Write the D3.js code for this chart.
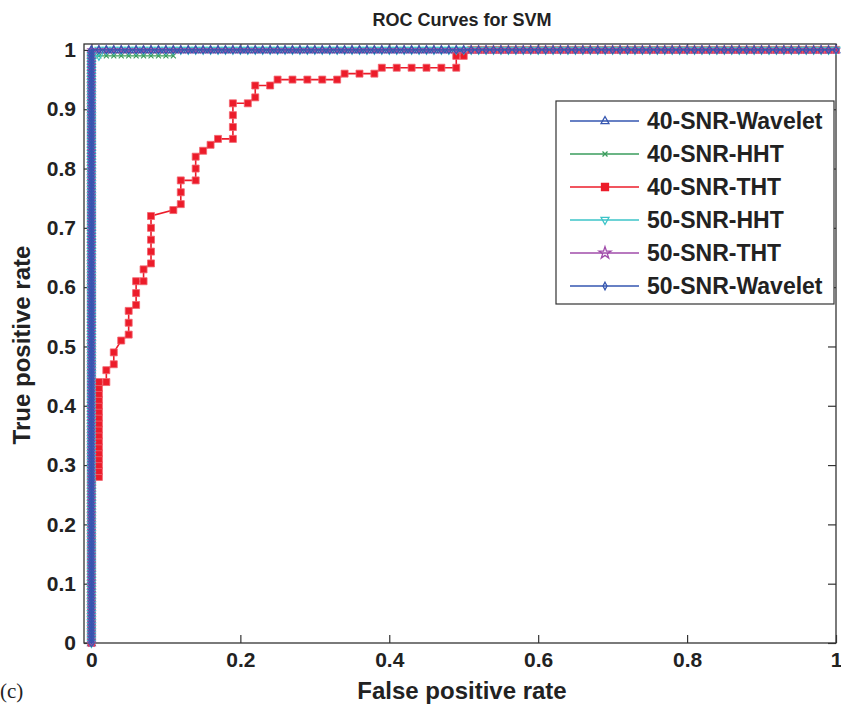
<!DOCTYPE html>
<html>
<head>
<meta charset="utf-8">
<script src="https://cdn.jsdelivr.net/npm/d3@7"></script>
<style>
  body { margin: 0; background: #fff; }
  svg { display: block; }
  .tick text { font-family: "Liberation Sans", Arial, sans-serif; font-weight: bold; font-size: 21px; fill: #222; }
  .tick line { stroke: #333; stroke-width: 1.2; }
</style>
</head>
<body>
<div id="chart"></div>
<script>
// tick values and labels
const xTicks = [0, 0.2, 0.4, 0.6, 0.8, 1]
const xTickLabels = ["0", "0.2", "0.4", "0.6", "0.8", "1"]
const yTicks = [0, 0.1, 0.2, 0.3, 0.4, 0.5, 0.6, 0.7, 0.8, 0.9, 1]
const yTickLabels = ["0", "0.1", "0.2", "0.3", "0.4", "0.5", "0.6", "0.7", "0.8", "0.9", "1"]

// perfect classifiers: TPR thresholds along FPR = 0, FPR thresholds along TPR = 1
const perfTPR = [0,.005,.01,.015,.02,.025,.03,.035,.04,.045,.05,.055,.06,.065,.07,.075,.08,.085,.09,.095,
  .1,.105,.11,.115,.12,.125,.13,.135,.14,.145,.15,.155,.16,.165,.17,.175,.18,.185,.19,.195,
  .2,.205,.21,.215,.22,.225,.23,.235,.24,.245,.25,.255,.26,.265,.27,.275,.28,.285,.29,.295,
  .3,.305,.31,.315,.32,.325,.33,.335,.34,.345,.35,.355,.36,.365,.37,.375,.38,.385,.39,.395,
  .4,.405,.41,.415,.42,.425,.43,.435,.44,.445,.45,.455,.46,.465,.47,.475,.48,.485,.49,.495,
  .5,.505,.51,.515,.52,.525,.53,.535,.54,.545,.55,.555,.56,.565,.57,.575,.58,.585,.59,.595,
  .6,.605,.61,.615,.62,.625,.63,.635,.64,.645,.65,.655,.66,.665,.67,.675,.68,.685,.69,.695,
  .7,.705,.71,.715,.72,.725,.73,.735,.74,.745,.75,.755,.76,.765,.77,.775,.78,.785,.79,.795,
  .8,.805,.81,.815,.82,.825,.83,.835,.84,.845,.85,.855,.86,.865,.87,.875,.88,.885,.89,.895,
  .9,.905,.91,.915,.92,.925,.93,.935,.94,.945,.95,.955,.96,.965,.97,.975,.98,.985,.99,.995,1]
const perfFPR = [0,.01,.02,.03,.04,.05,.06,.07,.08,.09,.1,.11,.12,.13,.14,.15,.16,.17,.18,.19,
  .2,.21,.22,.23,.24,.25,.26,.27,.28,.29,.3,.31,.32,.33,.34,.35,.36,.37,.38,.39,
  .4,.41,.42,.43,.44,.45,.46,.47,.48,.49,.5,.51,.52,.53,.54,.55,.56,.57,.58,.59,
  .6,.61,.62,.63,.64,.65,.66,.67,.68,.69,.7,.71,.72,.73,.74,.75,.76,.77,.78,.79,
  .8,.81,.82,.83,.84,.85,.86,.87,.88,.89,.9,.91,.92,.93,.94,.95,.96,.97,.98,.99,1]

// 40-SNR-HHT: plateau at TPR 0.99 before reaching 1
const hhtPlateauFPR = [.01,.02,.03,.04,.05,.06,.07,.08,.09,.1,.11]
const hhtPlateauTPR = 0.99

// 40-SNR-THT (red) ROC points
const thtFPR = [0,0,0,0,0,0,0,0,0,0,0,0,0,0,0,0,0,0,0,0,0,0,0,0,0,0,0,0,0,
  .01,.01,.01,.01,.01,.01,.01,.01,.01,.01,.01,.01,.01,.01,.01,.01,.01,
  .02,.02,.03,.03,.04,.05,.05,.05,.06,.06,.06,.07,.07,.08,.08,.08,.08,.08,
  .11,.12,.12,.12,.14,.14,.14,.15,.16,.17,.19,.19,.19,.19,.21,.22,.22,.24,
  .25,.27,.29,.31,.33,.34,.36,.38,.39,.41,.43,.45,.47,.49,.49,.5,
  .51,.52,.53,.54,.55,.56,.57,.58,.59,.6,.61,.62,.63,.64,.65,.66,.67,.68,.69,.7,
  .71,.72,.73,.74,.75,.76,.77,.78,.79,.8,.81,.82,.83,.84,.85,.86,.87,.88,.89,.9,
  .91,.92,.93,.94,.95,.96,.97,.98,.99,1]
const thtTPR = [0,.01,.02,.03,.04,.05,.06,.07,.08,.09,.1,.11,.12,.13,.14,.15,.16,.17,.18,.19,.2,.21,.22,.23,.24,.25,.26,.27,.28,
  .28,.29,.3,.31,.32,.33,.34,.35,.36,.37,.38,.39,.4,.41,.42,.43,.44,
  .44,.46,.47,.49,.51,.52,.54,.56,.57,.59,.61,.61,.63,.64,.66,.68,.7,.72,
  .73,.74,.76,.78,.78,.8,.82,.83,.84,.85,.85,.87,.89,.91,.91,.92,.94,.94,
  .95,.95,.95,.95,.95,.96,.96,.96,.97,.97,.97,.97,.97,.97,.99,.99,
  1,1,1,1,1,1,1,1,1,1,1,1,1,1,1,1,1,1,1,1,
  1,1,1,1,1,1,1,1,1,1,1,1,1,1,1,1,1,1,1,1,
  1,1,1,1,1,1,1,1,1,1]

const seriesNames = ["40-SNR-Wavelet", "40-SNR-HHT", "40-SNR-THT", "50-SNR-HHT", "50-SNR-THT", "50-SNR-Wavelet"]
const seriesColors = ["#3556b0", "#3a9c5c", "#ec1c2a", "#3cc4c8", "#a04caa", "#3556b0"]

// build point tables
const perfPts = perfTPR.map(t => [0, t]).concat(perfFPR.slice(1).map(f => [f, 1]))
const hhtPts = perfTPR.filter(t => t <= hhtPlateauTPR).map(t => [0, t])
  .concat(hhtPlateauFPR.map(f => [f, hhtPlateauTPR]))
  .concat(perfFPR.filter(f => f >= 0.11).map(f => [f, 1]))
const hht50Pts = perfTPR.filter(t => t <= hhtPlateauTPR).map(t => [0, t])
  .concat([[0.01, hhtPlateauTPR]])
  .concat(perfFPR.slice(1).map(f => [f, 1]))
const thtPts = thtFPR.map((f, i) => [f, thtTPR[i]])
const seriesPts = [perfPts, hhtPts, thtPts, hht50Pts, perfPts, perfPts]

// marker shapes
const markerPaths = [
  "M0,-4.5L4,2.7L-4,2.7Z",
  "M-2.5,-2.5L2.5,2.5M-2.5,2.5L2.5,-2.5",
  "M-3.5,-3.5H3.5V3.5H-3.5Z",
  "M0,4.5L4,-2.7L-4,-2.7Z",
  d3.symbol(d3.symbolStar, 14)(),
  "M0,-3.6L2.8,0L0,3.6L-2.8,0Z"
]
const legendPaths = markerPaths.slice()
legendPaths[4] = d3.symbol(d3.symbolStar, 45)()
legendPaths[5] = "M0,-3.8L2,0L0,3.8L-2,0Z"
const markerFill = ["none", "none", "#ec1c2a", "none", "none", "none"]

const W = 841, H = 706
const svg = d3.select("#chart").append("svg").attr("width", W).attr("height", H)

const x = d3.scaleLinear().domain([-0.01, 1]).range([84, 836])
const y = d3.scaleLinear().domain([0, 1.01]).range([643, 44])

// axes with inward ticks
svg.append("g")
  .attr("transform", "translate(0,643)")
  .call(d3.axisBottom(x).tickValues(xTicks).tickSizeInner(-8).tickSizeOuter(0).tickPadding(9)
    .tickFormat((d, i) => xTickLabels[i]))
  .call(g => g.select(".domain").remove())

svg.append("g")
  .attr("transform", "translate(84,0)")
  .call(d3.axisLeft(y).tickValues(yTicks).tickSizeInner(-8).tickSizeOuter(0).tickPadding(8)
    .tickFormat((d, i) => yTickLabels[i]))
  .call(g => g.select(".domain").remove())

svg.append("g")
  .attr("transform", "translate(0,44)")
  .call(d3.axisTop(x).tickValues(xTicks).tickSizeInner(-8).tickSizeOuter(0).tickFormat(""))
  .call(g => g.select(".domain").remove())

svg.append("g")
  .attr("transform", "translate(836,0)")
  .call(d3.axisRight(y).tickValues(yTicks).tickSizeInner(-8).tickSizeOuter(0).tickFormat(""))
  .call(g => g.select(".domain").remove())

// frame
svg.append("rect")
  .attr("x", 84).attr("y", 44).attr("width", 836 - 84).attr("height", 643 - 44)
  .attr("fill", "none").attr("stroke", "#333").attr("stroke-width", 1.3)

// curves
const line = d3.line().x(d => x(d[0])).y(d => y(d[1]))

seriesPts.forEach((pts, i) => {
  const g = svg.append("g").attr("class", "series")
  g.append("path")
    .datum(pts)
    .attr("d", line)
    .attr("fill", "none")
    .attr("stroke", seriesColors[i])
    .attr("stroke-width", i == 2 ? 1.6 : 1.3)

  g.selectAll(".mk")
    .data(pts)
    .enter()
    .append("path")
    .attr("class", "mk")
    .attr("transform", d => "translate(" + x(d[0]) + "," + y(d[1]) + ")")
    .attr("d", markerPaths[i])
    .attr("fill", markerFill[i])
    .attr("stroke", i == 2 ? "#f26470" : seriesColors[i])
    .attr("stroke-width", i == 2 ? 0.8 : 1.1)
})

// legend
const lg = svg.append("g").attr("transform", "translate(556,101)")
lg.append("rect")
  .attr("width", 278).attr("height", 203)
  .attr("fill", "#fff").attr("stroke", "#333").attr("stroke-width", 1.2)

const item = lg.selectAll(".legend")
  .data(seriesNames)
  .enter()
  .append("g")
  .attr("class", "legend")
  .attr("transform", (d, i) => "translate(0," + (20 + i * 33) + ")")

item.append("line")
  .attr("x1", 14).attr("x2", 83)
  .attr("stroke", (d, i) => seriesColors[i]).attr("stroke-width", 1.3)

item.append("path")
  .attr("transform", "translate(49,0)")
  .attr("d", (d, i) => legendPaths[i])
  .attr("fill", (d, i) => markerFill[i])
  .attr("stroke", (d, i) => i == 2 ? "#ec1c2a" : seriesColors[i])
  .attr("stroke-width", 1.3)

item.append("text")
  .attr("x", 91).attr("y", 8)
  .attr("font-family", "Liberation Sans, Arial, sans-serif")
  .attr("font-weight", "bold")
  .attr("font-size", 23)
  .attr("fill", "#222")
  .text(d => d)

// titles
svg.append("text")
  .attr("x", 462).attr("y", 26)
  .attr("text-anchor", "middle")
  .attr("font-family", "Liberation Sans, Arial, sans-serif")
  .attr("font-weight", "bold").attr("font-size", 18).attr("fill", "#222")
  .text("ROC Curves for SVM")

svg.append("text")
  .attr("x", 462).attr("y", 699)
  .attr("text-anchor", "middle")
  .attr("font-family", "Liberation Sans, Arial, sans-serif")
  .attr("font-weight", "bold").attr("font-size", 24).attr("fill", "#222")
  .text("False positive rate")

svg.append("text")
  .attr("transform", "translate(30,345) rotate(-90)")
  .attr("text-anchor", "middle")
  .attr("font-family", "Liberation Sans, Arial, sans-serif")
  .attr("font-weight", "bold").attr("font-size", 24).attr("fill", "#222")
  .text("True positive rate")

svg.append("text")
  .attr("x", 0).attr("y", 698)
  .attr("font-family", "Liberation Serif, Times New Roman, serif")
  .attr("font-size", 21).attr("fill", "#222")
  .text("(c)")
</script>
</body>
</html>
